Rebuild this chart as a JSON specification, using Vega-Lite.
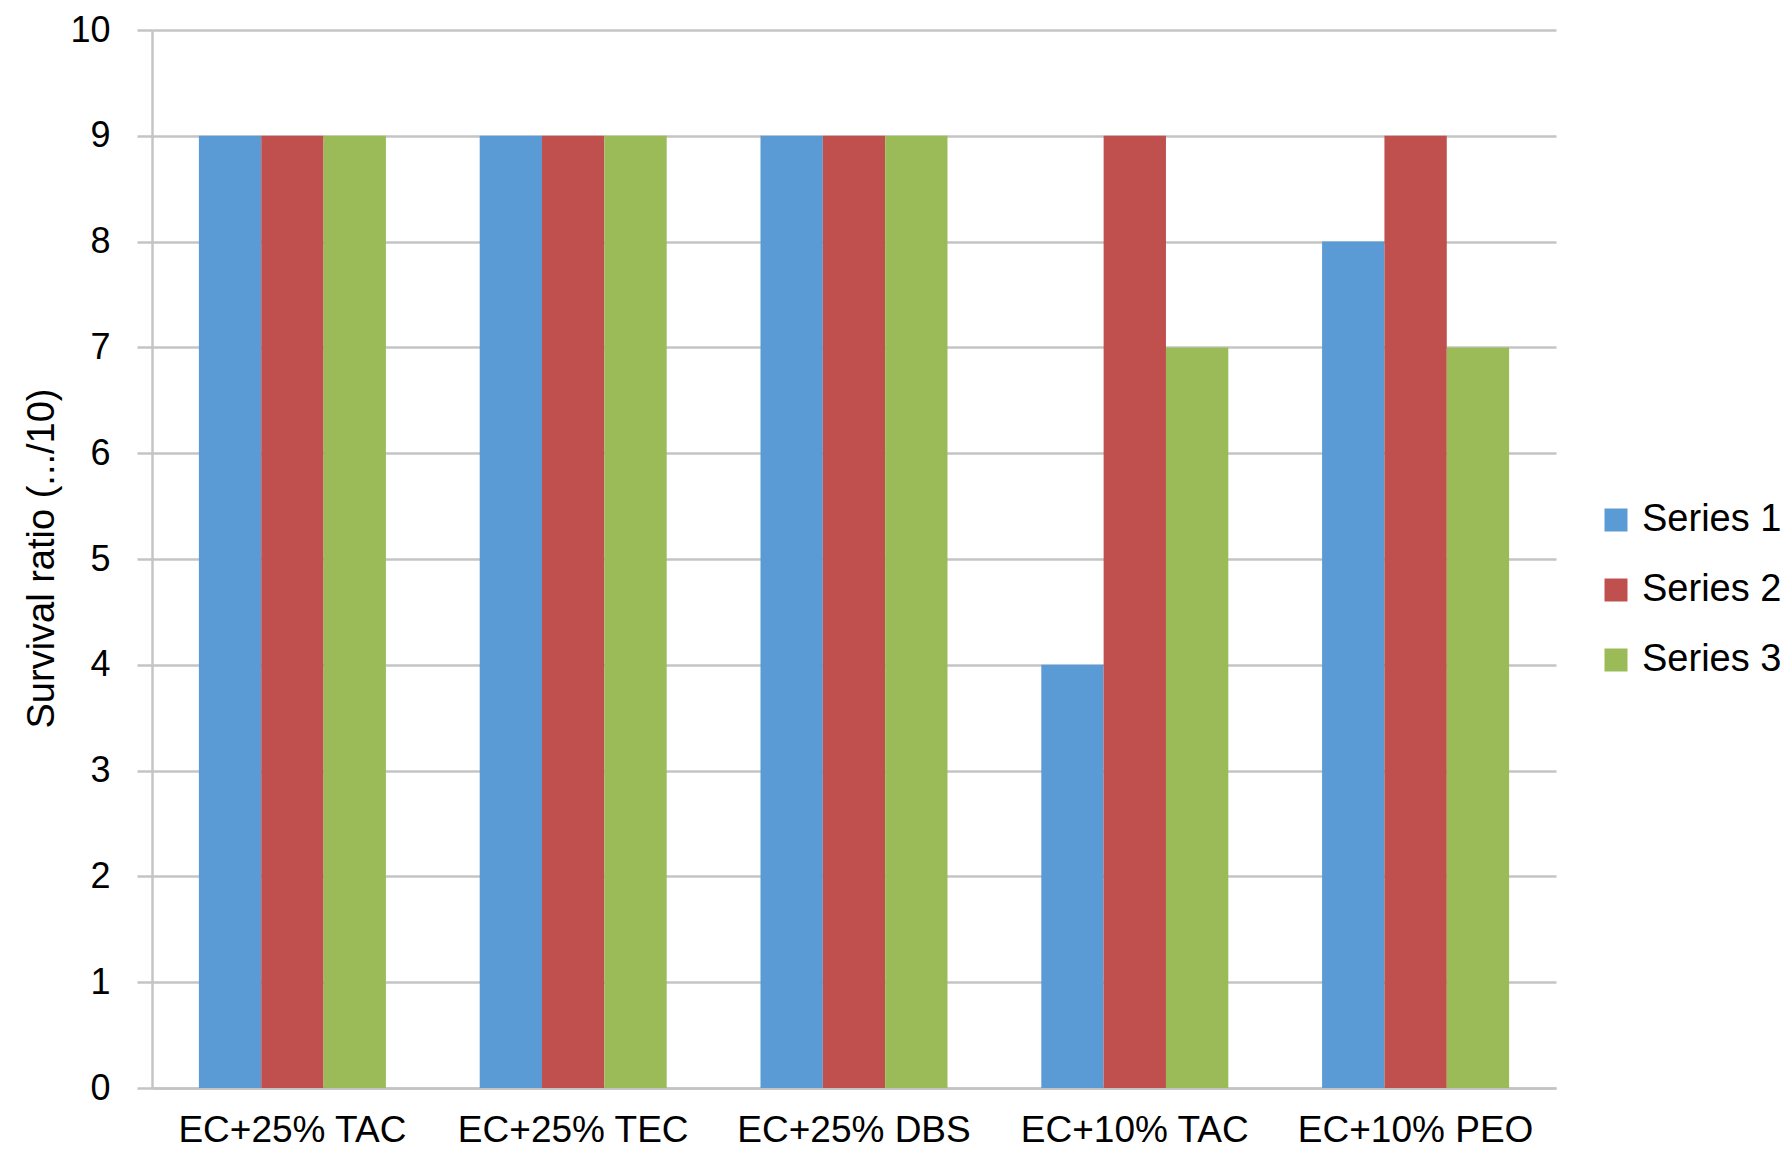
{
  "$schema": "https://vega.github.io/schema/vega-lite/v6.json",
  "autosize": {"type": "none"},
  "padding": {"left": 152, "top": 30, "right": 235, "bottom": 74},
  "width": 1404,
  "height": 1058,
  "background": "white",
  "data": {
    "values": [
      {"group": "EC+25% TAC", "series": "Series 1", "ratio": 9},
      {"group": "EC+25% TAC", "series": "Series 2", "ratio": 9},
      {"group": "EC+25% TAC", "series": "Series 3", "ratio": 9},
      {"group": "EC+25% TEC", "series": "Series 1", "ratio": 9},
      {"group": "EC+25% TEC", "series": "Series 2", "ratio": 9},
      {"group": "EC+25% TEC", "series": "Series 3", "ratio": 9},
      {"group": "EC+25% DBS", "series": "Series 1", "ratio": 9},
      {"group": "EC+25% DBS", "series": "Series 2", "ratio": 9},
      {"group": "EC+25% DBS", "series": "Series 3", "ratio": 9},
      {"group": "EC+10% TAC", "series": "Series 1", "ratio": 4},
      {"group": "EC+10% TAC", "series": "Series 2", "ratio": 9},
      {"group": "EC+10% TAC", "series": "Series 3", "ratio": 7},
      {"group": "EC+10% PEO", "series": "Series 1", "ratio": 8},
      {"group": "EC+10% PEO", "series": "Series 2", "ratio": 9},
      {"group": "EC+10% PEO", "series": "Series 3", "ratio": 7}
    ]
  },
  "mark": {"type": "bar"},
  "encoding": {
    "x": {
      "field": "group",
      "type": "nominal",
      "sort": null,
      "scale": {"paddingInner": 0.334, "paddingOuter": 0.167},
      "axis": {
        "title": null,
        "labelAngle": 0,
        "ticks": false,
        "labelPadding": 24,
        "labelFontSize": 37,
        "labelLimit": 0,
        "domainColor": "#c4c4c4",
        "domainWidth": 2.5
      }
    },
    "xOffset": {
      "field": "series",
      "type": "nominal",
      "scale": {"paddingInner": 0, "paddingOuter": 0}
    },
    "y": {
      "field": "ratio",
      "type": "quantitative",
      "scale": {"domain": [0, 10], "nice": false},
      "axis": {
        "title": "Survival ratio (.../10)",
        "values": [0, 1, 2, 3, 4, 5, 6, 7, 8, 9, 10],
        "labelFontSize": 36,
        "labelPadding": 27,
        "tickSize": 15,
        "tickColor": "#c4c4c4",
        "tickWidth": 2.5,
        "domainColor": "#c4c4c4",
        "domainWidth": 2.5,
        "gridColor": "#c4c4c4",
        "gridWidth": 2.5,
        "titleFontSize": 38,
        "titleFontWeight": "normal",
        "titleBaseline": "middle",
        "titleX": -110,
        "titleY": 528
      }
    },
    "color": {
      "field": "series",
      "type": "nominal",
      "scale": {
        "domain": ["Series 1", "Series 2", "Series 3"],
        "range": ["#5b9bd5", "#c0504d", "#9bbb59"]
      },
      "legend": {
        "title": null,
        "orient": "none",
        "legendX": 1445,
        "legendY": 471,
        "symbolType": "square",
        "symbolSize": 529,
        "symbolStrokeWidth": 0,
        "labelFontSize": 38,
        "labelOffset": 7,
        "rowPadding": 32,
        "padding": 0
      }
    }
  },
  "config": {
    "font": "Liberation Sans",
    "axis": {"labelColor": "#000000", "titleColor": "#000000", "gridOpacity": 1},
    "legend": {"labelColor": "#000000"},
    "view": {"stroke": null}
  }
}
